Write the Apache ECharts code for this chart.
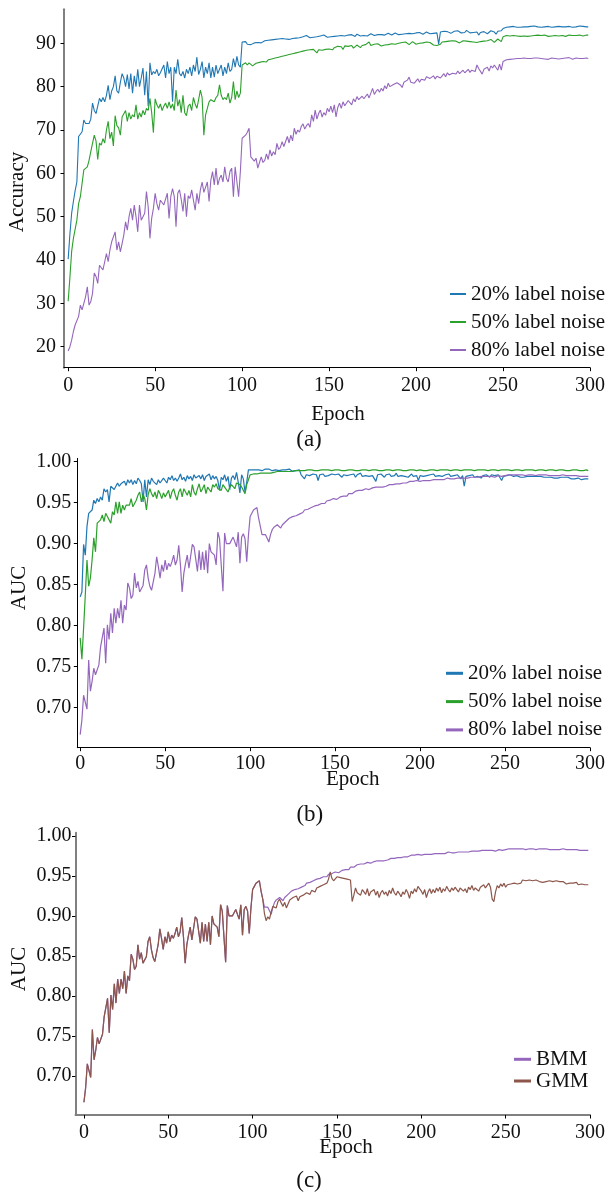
<!DOCTYPE html>
<html><head><meta charset="utf-8">
<script src="https://cdn.jsdelivr.net/npm/echarts@6/dist/echarts.min.js"></script>
<style>html,body{margin:0;padding:0;background:#fff}#c{width:608px;height:1195px}</style>
</head><body><div id="c"></div>
<script>
// ---------- (a) Accuracy, epochs 0..299 ----------
const accA20 = [
40.2,46.0,50.8,53.5,56.0,58.0,68.5,68.8,69.6,72.3,
71.5,71.3,71.5,72.5,76.2,74.5,73.8,73.6,77.3,76.5,
77.5,76.5,78.0,80.3,77.0,79.0,80.0,82.5,79.0,78.5,
81.0,83.0,82.0,80.0,82.8,79.5,83.0,78.5,82.5,80.0,
84.0,80.0,82.0,84.3,78.0,83.5,75.5,85.5,82.7,83.5,
83.0,84.0,82.5,83.2,83.0,85.0,82.0,85.8,83.0,84.5,
76.5,84.5,83.0,86.3,83.0,82.5,83.5,82.0,84.0,83.0,
84.5,82.5,85.0,83.5,86.8,82.8,84.0,85.8,82.0,84.5,
83.0,85.5,82.0,84.5,82.2,85.0,83.0,84.0,85.0,82.5,
84.5,83.0,85.5,83.5,84.0,86.5,84.5,87.0,85.0,84.5,
90.3,90.6,90.4,89.8,90.0,89.7,90.0,90.1,89.9,90.2,
90.3,90.1,90.4,90.6,90.3,90.7,90.5,90.8,90.6,90.9,
90.7,91.0,90.8,91.1,90.7,91.0,91.2,90.9,91.3,91.1,
91.4,91.2,91.6,91.3,91.7,91.5,91.4,91.8,91.5,91.3,
91.6,91.4,91.2,91.5,91.3,91.7,91.5,91.9,91.6,91.4,
91.7,91.5,91.8,91.6,91.9,91.7,91.5,91.8,92.0,91.7,
91.6,91.9,91.7,92.0,91.8,91.6,92.1,91.8,91.7,92.0,
91.8,92.1,91.7,91.9,92.2,91.9,91.8,92.1,92.0,91.8,
92.0,92.2,91.9,92.1,92.3,92.0,91.9,92.2,92.4,92.1,
92.0,92.3,92.1,92.4,92.2,92.0,92.3,92.5,92.2,92.1,
92.4,92.2,92.5,92.3,92.1,92.4,92.6,92.3,92.2,92.5,
92.3,92.5,92.4,89.8,92.6,92.5,92.8,92.4,92.7,92.5,
92.3,92.6,92.8,92.5,92.9,92.6,92.4,92.7,92.5,93.0,
92.6,92.4,92.2,92.5,92.8,92.6,91.9,92.5,92.9,92.7,
92.5,92.2,92.6,92.9,93.1,92.6,92.1,92.8,93.2,92.9,
93.4,93.6,93.7,93.6,93.8,93.7,93.9,93.8,93.7,93.9,
93.7,93.9,93.8,94.0,93.8,93.7,93.9,93.8,94.0,93.9,
93.8,93.9,93.7,93.9,93.8,94.0,93.9,93.8,93.7,93.9,
93.8,94.0,93.9,93.7,93.8,93.9,93.8,94.0,93.9,93.8,
93.7,93.9,93.8,93.9,94.0,93.8,93.9,93.7,93.8,93.8];

const accA50 = [
30.5,36.0,42.0,45.0,45.2,49.2,53.0,54.6,54.8,60.8,
60.5,61.5,63.0,65.0,65.3,68.8,67.5,63.2,67.0,66.5,
68.0,67.0,70.0,72.0,68.0,69.5,66.3,73.3,71.0,70.5,
68.8,73.0,72.9,74.5,72.0,74.0,72.5,73.5,73.0,75.8,
72.5,74.0,73.0,74.5,73.5,75.0,74.5,77.3,74.0,69.4,
77.2,75.8,75.0,76.0,74.5,75.5,76.2,75.0,76.5,75.0,
76.0,74.5,79.2,75.5,77.0,74.0,78.0,74.0,73.3,75.5,
76.0,74.5,77.5,76.0,75.0,77.0,79.2,77.5,68.8,73.5,
75.0,76.5,77.0,77.3,76.5,77.5,78.0,80.4,78.0,77.0,
77.5,77.0,78.5,76.2,77.5,81.2,77.0,79.0,77.5,78.5,
85.0,85.3,85.5,85.0,85.5,85.2,84.8,85.0,85.4,85.2,
85.6,85.3,85.8,86.0,85.7,86.2,85.9,86.4,86.1,86.6,
86.3,86.8,86.5,87.0,86.6,87.2,86.9,87.4,87.1,87.6,
87.2,87.8,87.5,88.0,87.6,88.2,87.9,88.4,88.0,88.5,
88.1,88.6,88.3,87.8,88.5,88.9,88.4,88.8,88.6,89.0,
88.7,89.1,88.5,89.0,88.8,89.3,88.9,89.2,88.6,89.4,
89.0,89.3,89.1,89.5,88.9,89.2,89.6,89.3,89.0,89.5,
89.2,89.7,89.4,90.3,89.5,89.3,89.8,89.5,89.9,89.6,
89.4,89.8,89.6,90.0,89.7,89.5,89.9,90.1,89.8,89.6,
90.0,89.8,90.2,89.9,90.3,90.0,89.7,90.1,90.4,90.0,
89.8,90.2,90.0,90.4,90.1,89.9,90.3,90.0,90.2,89.8,
89.6,90.0,89.5,89.2,89.8,90.3,90.1,90.4,90.2,90.5,
90.3,90.6,90.2,90.5,90.3,90.1,90.4,90.6,90.3,90.5,
90.2,90.4,90.7,90.3,90.5,90.2,90.6,90.4,90.8,90.5,
90.3,90.6,90.4,90.9,90.5,90.2,90.6,91.0,90.7,90.4,
91.5,91.6,91.8,91.6,91.7,91.5,91.8,91.6,91.7,91.9,
91.6,91.8,91.7,91.9,91.6,91.8,91.7,91.5,91.8,91.7,
91.9,91.6,91.8,91.7,91.9,91.8,91.6,91.8,91.7,91.9,
91.8,91.6,91.7,91.9,91.8,91.7,91.6,91.8,91.9,91.7,
91.8,91.6,91.8,91.7,91.9,91.8,91.7,91.8,91.9,91.9];

const accA80 = [
19.0,20.0,21.5,23.5,25.0,25.0,27.0,29.6,28.5,28.5,
31.5,33.8,29.6,30.4,32.3,37.0,36.2,34.6,38.8,38.4,
37.7,39.6,41.5,39.6,42.3,44.2,44.6,46.5,42.3,44.2,
41.9,43.8,45.8,48.8,46.9,50.0,51.9,49.2,52.7,50.0,
46.5,52.7,49.2,49.6,50.8,55.8,52.3,45.0,49.6,51.9,
55.4,53.0,51.5,53.8,53.5,52.7,53.0,55.4,49.6,54.6,
56.5,54.6,47.7,55.4,56.2,54.0,51.2,55.4,50.0,54.8,
54.2,56.2,55.8,51.5,55.4,53.0,56.2,58.0,55.6,55.4,
58.0,53.5,58.4,60.4,57.3,61.2,57.3,58.8,59.6,58.0,
61.5,58.8,58.0,60.4,61.2,54.6,61.5,61.2,54.6,60.5,
68.1,68.5,68.8,69.5,70.4,63.8,64.0,62.8,63.5,61.2,
62.5,63.8,62.5,63.0,64.5,63.2,65.4,64.0,65.0,64.3,
66.9,65.5,66.0,67.3,66.2,65.8,68.5,67.0,68.8,67.5,
70.4,69.0,70.0,69.5,70.8,71.4,70.2,71.0,71.5,70.6,
73.5,72.0,74.6,72.5,73.8,74.6,73.0,74.0,73.4,75.0,
74.2,75.5,74.0,75.8,73.0,75.2,76.2,75.0,76.5,75.6,
76.0,76.8,76.9,75.8,77.2,76.5,77.7,77.0,76.6,77.8,
77.2,77.5,78.3,77.4,78.5,79.6,78.2,78.9,79.4,78.7,
79.6,79.0,80.2,79.5,80.8,80.0,79.8,80.5,80.2,80.9,
81.2,80.4,79.8,81.0,80.6,81.5,82.2,81.0,81.4,80.8,
81.2,81.8,81.0,81.7,82.1,81.5,82.3,82.7,81.9,82.2,
82.5,81.8,82.4,82.8,82.0,82.5,83.0,82.3,83.2,82.7,
82.4,83.1,83.5,82.9,83.6,83.0,83.4,83.8,83.2,83.5,
84.0,83.3,83.8,84.2,83.5,85.0,84.2,84.5,82.9,84.0,
84.2,84.5,83.6,84.8,84.3,85.0,84.6,83.8,85.2,83.8,
85.8,86.0,86.2,86.1,86.3,86.2,86.4,86.3,86.5,86.4,
86.5,86.3,86.6,86.4,86.5,86.7,86.5,86.8,86.6,86.4,
86.6,86.8,86.5,86.7,86.4,86.0,86.3,86.5,86.6,86.4,
86.5,86.7,86.4,86.6,86.5,86.3,86.6,86.5,86.7,86.4,
86.3,86.5,86.6,86.4,86.5,86.7,86.5,86.4,86.6,86.5];

// ---------- (b) AUC, epochs 0..299 ----------
const aucB20 = [
.835,.841,.899,.886,.921,.937,.937,.941,.953,.949,
.955,.951,.957,.953,.967,.963,.966,.951,.970,.968,
.966,.968,.974,.970,.973,.974,.976,.971,.978,.974,
.978,.972,.977,.973,.980,.977,.973,.951,.978,.957,
.978,.972,.980,.976,.977,.972,.978,.974,.976,.980,
.977,.974,.981,.978,.983,.977,.980,.976,.980,.985,
.978,.981,.976,.983,.979,.982,.977,.984,.980,.978,
.983,.979,.984,.977,.982,.980,.985,.978,.983,.979,
.982,.977,.965,.981,.978,.984,.976,.982,.966,.980,
.983,.978,.987,.975,.962,.984,.979,.963,.975,.990,
.991,.990,.991,.990,.991,.990,.991,.989,.990,.991,
.990,.991,.990,.989,.991,.990,.990,.989,.991,.990,
.991,.990,.989,.991,.990,.988,.990,.989,.991,.990,
.984,.983,.979,.984,.986,.983,.982,.985,.983,.984,
.977,.984,.983,.985,.982,.984,.983,.981,.985,.983,
.984,.982,.985,.983,.981,.984,.986,.983,.982,.984,
.983,.985,.981,.984,.983,.986,.982,.984,.983,.985,
.982,.984,.983,.985,.976,.984,.982,.985,.983,.981,
.984,.983,.985,.982,.984,.983,.986,.982,.984,.983,
.985,.982,.984,.981,.983,.985,.982,.984,.983,.977,
.983,.985,.982,.984,.983,.981,.984,.983,.985,.982,
.984,.983,.985,.982,.980,.984,.983,.985,.982,.984,
.983,.981,.984,.982,.979,.983,.970,.982,.984,.983,
.982,.984,.981,.983,.982,.984,.980,.983,.982,.984,
.983,.981,.984,.982,.983,.981,.984,.983,.977,.982,
.984,.983,.982,.984,.983,.982,.981,.983,.982,.981,
.982,.981,.983,.982,.981,.982,.980,.982,.981,.982,
.981,.982,.980,.981,.982,.981,.980,.981,.982,.980,
.981,.980,.982,.981,.980,.981,.979,.981,.980,.979,
.980,.979,.981,.980,.979,.978,.980,.979,.979,.979];

const aucB50 = [
.785,.759,.797,.837,.880,.848,.858,.880,.907,.890,
.925,.923,.929,.935,.927,.937,.933,.931,.925,.939,
.935,.951,.937,.951,.937,.947,.941,.947,.949,.947,
.955,.945,.947,.953,.959,.963,.951,.960,.955,.941,
.960,.967,.961,.957,.963,.955,.965,.961,.955,.962,
.957,.961,.965,.955,.963,.967,.959,.953,.963,.967,
.957,.967,.969,.959,.965,.957,.972,.963,.959,.967,
.973,.963,.967,.972,.961,.969,.967,.963,.972,.969,
.973,.967,.969,.965,.972,.969,.967,.963,.969,.972,
.971,.967,.974,.972,.972,.969,.971,.961,.972,.978,
.984,.984,.985,.984,.985,.985,.986,.985,.986,.986,
.986,.987,.986,.987,.987,.987,.988,.987,.988,.988,
.988,.988,.988,.989,.988,.989,.989,.988,.989,.989,
.989,.990,.989,.989,.990,.989,.990,.989,.989,.990,
.989,.990,.990,.989,.990,.989,.990,.990,.989,.990,
.990,.989,.990,.990,.989,.990,.989,.990,.990,.989,
.990,.990,.989,.990,.989,.990,.990,.989,.990,.990,
.989,.990,.990,.989,.990,.990,.989,.990,.989,.990,
.990,.989,.990,.990,.989,.990,.990,.989,.990,.990,
.989,.990,.989,.990,.990,.989,.990,.990,.989,.990,
.990,.990,.989,.990,.989,.990,.990,.989,.990,.990,
.989,.990,.990,.989,.990,.989,.990,.990,.989,.990,
.990,.989,.990,.990,.989,.990,.990,.989,.990,.989,
.990,.990,.989,.990,.990,.989,.990,.989,.990,.990,
.989,.990,.990,.989,.990,.990,.989,.990,.990,.989,
.990,.989,.990,.990,.989,.990,.990,.989,.990,.990,
.989,.990,.990,.989,.990,.989,.990,.990,.989,.990,
.990,.989,.990,.990,.989,.990,.990,.989,.990,.990,
.989,.990,.990,.989,.990,.990,.989,.990,.989,.990,
.990,.989,.990,.990,.989,.990,.989,.990,.990,.989];

// 80% label noise (b) — also the BMM curve in (c)
const aucB80 = [
.667,.685,.715,.715,.698,.758,.720,.732,.748,.740,
.738,.752,.774,.774,.797,.754,.801,.783,.815,.791,
.821,.803,.821,.809,.831,.803,.825,.819,.852,.846,
.833,.837,.864,.846,.854,.841,.843,.849,.868,.874,
.858,.848,.843,.841,.864,.884,.872,.858,.874,.866,
.880,.868,.876,.872,.878,.886,.874,.880,.898,.874,
.841,.864,.876,.886,.870,.872,.899,.896,.898,.866,
.892,.868,.890,.868,.892,.864,.900,.890,.892,.886,
.874,.914,.906,.908,.842,.913,.900,.898,.900,.898,
.908,.910,.896,.914,.876,.908,.912,.906,.878,.910,
.933,.937,.941,.943,.944,.931,.921,.911,.909,.911,
.913,.902,.911,.917,.920,.918,.923,.921,.919,.923,
.925,.927,.927,.931,.932,.933,.931,.934,.933,.936,
.935,.938,.941,.939,.942,.941,.944,.943,.946,.945,
.947,.946,.949,.951,.949,.952,.951,.953,.952,.955,
.955,.954,.956,.957,.956,.958,.959,.958,.961,.963,
.961,.962,.964,.963,.965,.967,.965,.966,.967,.966,
.966,.967,.968,.967,.969,.968,.969,.970,.969,.970,
.970,.971,.972,.971,.972,.972,.973,.974,.973,.974,
.974,.975,.974,.975,.976,.975,.976,.976,.977,.976,
.976,.977,.977,.976,.977,.978,.977,.978,.978,.977,
.978,.979,.978,.979,.978,.979,.980,.979,.979,.980,
.979,.980,.980,.979,.980,.981,.980,.981,.980,.981,
.981,.980,.981,.982,.981,.981,.982,.981,.982,.981,
.982,.981,.982,.982,.981,.982,.983,.982,.982,.981,
.983,.984,.984,.984,.984,.984,.984,.984,.984,.984,
.984,.984,.983,.984,.984,.983,.984,.984,.983,.984,
.984,.983,.984,.983,.984,.984,.983,.984,.983,.984,
.983,.984,.983,.983,.984,.983,.983,.984,.983,.983,
.983,.982,.983,.983,.982,.983,.982,.983,.982,.982];

// ---------- (c) GMM: identical to BMM up to epoch 104, then its own values (epochs 105..299) ----------
const gmmTail = [
.931,.921,.903,.894,.899,
.896,.905,.912,.914,.910,.918,.921,.916,.912,.917,
.910,.915,.920,.918,.923,.921,.925,.919,.924,.922,
.926,.924,.929,.931,.927,.932,.933,.930,.935,.934,
.937,.935,.939,.938,.941,.946,.955,.947,.944,.945,
.949,.951,.948,.950,.947,.949,.946,.948,.945,.918,
.926,.935,.929,.931,.926,.933,.930,.927,.934,.925,
.930,.928,.933,.926,.931,.923,.929,.932,.927,.930,
.925,.932,.928,.935,.929,.926,.931,.928,.924,.930,
.927,.933,.929,.922,.931,.928,.934,.930,.937,.939,
.931,.927,.933,.923,.930,.934,.928,.933,.929,.935,
.931,.936,.929,.934,.931,.937,.933,.930,.935,.932,
.936,.933,.930,.935,.937,.931,.934,.929,.936,.933,
.938,.932,.935,.937,.931,.936,.934,.939,.935,.937,
.941,.936,.921,.918,.930,.938,.935,.940,.937,.941,
.936,.939,.937,.940,.938,.941,.943,.940,.942,.941,
.945,.943,.944,.942,.945,.943,.944,.942,.945,.944,
.943,.945,.942,.944,.943,.941,.944,.942,.943,.941,
.944,.942,.943,.941,.943,.942,.940,.942,.941,.943,
.941,.940,.942,.939,.941,.940,.938,.939,.941,.939];
const aucBMM = aucB80;
const aucGMM = aucB80.slice(0, 105).concat(gmmTail);

const xTicks = [0, 50, 100, 150, 200, 250, 300];
const accTicks = [20, 30, 40, 50, 60, 70, 80, 90];
const aucTicks = [0.70, 0.75, 0.80, 0.85, 0.90, 0.95, 1.00];
const noiseNames = ['20% label noise', '50% label noise', '80% label noise'];
const mixNames = ['BMM', 'GMM'];

// ---------- chart ----------
const C_BLUE = '#1f77b4', C_GREEN = '#2ca02c', C_PURPLE = '#9467bd', C_BROWN = '#8c564b';
const FONT = '"Liberation Serif", "DejaVu Serif", serif';
const TXT = '#111';
const TICK_FS = 20, LEG_FS = 21, NAME_FS = 21, CAP_FS = 23;
const toPts = arr => arr.map((v, i) => [i, v]);

function xAx(gi, min, lc, lw, margin) {
  return {
    type: 'value', gridIndex: gi, min: min, max: 300,
    axisLine: { show: true, onZero: false, lineStyle: { color: lc, width: lw } },
    axisTick: { show: true, length: 3.5, customValues: xTicks, lineStyle: { color: '#000', width: 1 } },
    axisLabel: { customValues: xTicks, fontFamily: FONT, fontSize: TICK_FS, color: TXT, margin: margin },
    splitLine: { show: false }
  };
}
function yAx(gi, min, max, ticks, dec, lc, lw, margin) {
  return {
    type: 'value', gridIndex: gi, min: min, max: max,
    axisLine: { show: true, onZero: false, lineStyle: { color: lc, width: lw } },
    axisTick: { show: true, length: 3.5, customValues: ticks, lineStyle: { color: '#000', width: 1 } },
    axisLabel: { customValues: ticks, fontFamily: FONT, fontSize: TICK_FS, color: TXT, margin: margin,
      formatter: v => Number(v).toFixed(dec) },
    splitLine: { show: false }
  };
}
function line(name, data, color, gi, w) {
  return { type: 'line', name: name, xAxisIndex: gi, yAxisIndex: gi, data: toPts(data),
    showSymbol: false, symbol: 'none', animation: false, silent: true,
    lineStyle: { color: color, width: w }, itemStyle: { color: color } };
}
function lbl(text, x, y, size, rot) {
  return { type: 'text', x: x, y: y, rotation: rot || 0, silent: true,
    style: { text: text, fill: TXT, font: size + 'px ' + FONT, align: 'center', verticalAlign: 'middle',
      textAlign: 'center', textVerticalAlign: 'middle' } };
}
function leg(names, left, top, iw, ih, gap) {
  return { data: names, orient: 'vertical', left: left, top: top, padding: 0, itemGap: gap,
    itemWidth: iw, itemHeight: ih, icon: 'rect', selectedMode: false,
    textStyle: { fontFamily: FONT, fontSize: LEG_FS, color: TXT, padding: [0, 0, 0, 0] } };
}

const chart = echarts.init(document.getElementById('c'), null, { renderer: 'canvas' });
chart.setOption({
  animation: false,
  backgroundColor: '#fff',
  grid: [
    { left: 64, right: 4.7, top: 9.3, height: 358.4 },
    { left: 77.3, right: 4.2, top: 458.4, height: 289.3 },
    { left: 75.5, right: 17.6, top: 832.8, height: 282.2 }
  ],
  xAxis: [
    xAx(0, -2.4, '#000', 1.2, 8),
    xAx(1, -1.7, '#000', 1, 6),
    xAx(2, -5, '#808080', 2, 8)
  ],
  yAxis: [
    yAx(0, 15.15, 97.85, accTicks, 0, '#808080', 2, 8),
    yAx(1, 0.651, 1.004, aucTicks, 2, '#000', 1, 6),
    yAx(2, 0.651, 1.004, aucTicks, 2, '#808080', 2, 4)
  ],
  legend: [
    leg(noiseNames, 450, 283.5, 16, 2, 7),
    leg(noiseNames, 446, 662.8, 17, 3, 7.3),
    leg(mixNames, 514, 1048.8, 17, 3, 0.7)
  ],
  series: [
    line(noiseNames[0], accA20, C_BLUE, 0, 1.1),
    line(noiseNames[1], accA50, C_GREEN, 0, 1.1),
    line(noiseNames[2], accA80, C_PURPLE, 0, 1.1),
    line(noiseNames[0], aucB20, C_BLUE, 1, 1.2),
    line(noiseNames[1], aucB50, C_GREEN, 1, 1.2),
    line(noiseNames[2], aucB80, C_PURPLE, 1, 1.2),
    line(mixNames[0], aucBMM, C_PURPLE, 2, 1.2),
    line(mixNames[1], aucGMM, C_BROWN, 2, 1.2)
  ],
  graphic: [
    lbl('Accuracy', 17, 192, NAME_FS, Math.PI / 2),
    lbl('Epoch', 338, 414, NAME_FS),
    lbl('(a)', 309, 440, CAP_FS),
    lbl('AUC', 19.5, 588, NAME_FS, Math.PI / 2),
    lbl('Epoch', 352.7, 779, NAME_FS),
    lbl('(b)', 309.8, 815, CAP_FS),
    lbl('AUC', 19.5, 969, NAME_FS, Math.PI / 2),
    lbl('Epoch', 346, 1147, NAME_FS),
    lbl('(c)', 309, 1181, CAP_FS)
  ]
});
</script>
</body></html>
